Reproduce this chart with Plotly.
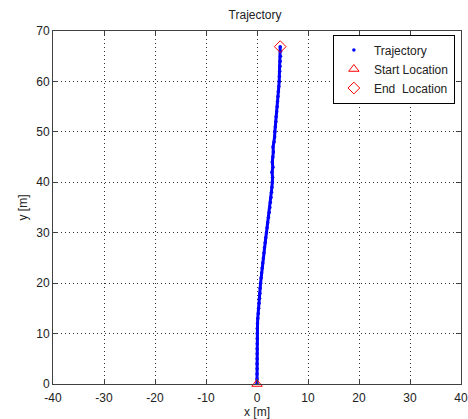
import plotly.graph_objects as go

traj_y = [0, 1, 2, 3, 4, 5, 6, 7, 8, 9, 10, 11, 12, 13, 14, 15, 16, 17, 18, 19,
          20, 21, 22, 23, 24, 25, 26, 27, 28, 29, 30, 31, 32, 33, 34, 35, 36, 37, 38, 39,
          40, 41, 42, 43, 44, 45, 46, 47, 48, 49, 50, 51, 52, 53, 54, 55, 56, 57, 58, 59,
          60, 61, 62, 63, 64, 65, 66, 66.9]
traj_x = [0.0, 0.0, 0.0, 0.02, 0.0, 0.02, 0.03, 0.02, 0.04, 0.05, 0.05, 0.05, 0.1, 0.15, 0.25, 0.32, 0.4, 0.5, 0.55, 0.62,
          0.7, 0.8, 0.9, 1.0, 1.12, 1.25, 1.35, 1.45, 1.6, 1.72, 1.85, 1.98, 2.1, 2.25, 2.4, 2.52, 2.62, 2.75, 2.85, 2.92,
          3.0, 3.05, 2.95, 3.1, 3.0, 3.1, 3.2, 3.15, 3.35, 3.45, 3.5, 3.6, 3.7, 3.75, 3.85, 3.95, 4.02, 4.1, 4.18, 4.28,
          4.35, 4.4, 4.45, 4.5, 4.55, 4.6, 4.6, 4.55]
start_xy = [0.0, 0.0]
end_xy = [4.55, 66.9]

x_ticks = [-40, -30, -20, -10, 0, 10, 20, 30, 40]
y_ticks = [0, 10, 20, 30, 40, 50, 60, 70]

font = "Liberation Sans, Arial, sans-serif"

fig = go.Figure()
fig.add_trace(go.Scatter(x=traj_x, y=traj_y, mode="lines", line=dict(color="#0000ff", width=3),
                         showlegend=False, hoverinfo="skip"))
fig.add_trace(go.Scatter(x=traj_x, y=traj_y, mode="markers", name="Trajectory",
                         marker=dict(color="#0000ff", size=3.5)))
fig.add_trace(go.Scatter(x=[start_xy[0]], y=[start_xy[1]], mode="markers", name="Start Location",
                         marker=dict(symbol="triangle-up-open", color="#ff0000", size=9, line=dict(width=1)),
                         cliponaxis=False))
fig.add_trace(go.Scatter(x=[end_xy[0]], y=[end_xy[1]], mode="markers", name="End  Location",
                         marker=dict(symbol="diamond-open", color="#ff0000", size=9, line=dict(width=1)),
                         cliponaxis=False))

axis_common = dict(showgrid=True, gridcolor="#333333", griddash="1px,3px", gridwidth=1,
                   zeroline=False, showline=True, linecolor="#404040", linewidth=1,
                   mirror="ticks", ticks="inside", ticklen=5, tickcolor="#404040",
                   automargin=False,
                   tickfont=dict(family=font, size=12, color="#222222"))

fig.update_xaxes(range=[-40, 40], tickvals=x_ticks, ticktext=[str(v) for v in x_ticks],
                 ticklabelstandoff=3,
                 title=dict(text="x [m]", font=dict(family=font, size=12, color="#222222"), standoff=2),
                 **axis_common)
fig.update_yaxes(range=[0, 70], tickvals=y_ticks, ticktext=[str(v) for v in y_ticks],
                 title=dict(text="y [m]", font=dict(family=font, size=12, color="#222222"), standoff=6),
                 **axis_common)

fig.update_layout(
    width=468, height=419,
    margin=dict(l=53, r=7, t=31, b=35, autoexpand=False),
    paper_bgcolor="#ffffff", plot_bgcolor="#ffffff",
    title=dict(text="Trajectory", x=0.545, xanchor="center", y=0.965, yanchor="middle",
               font=dict(family=font, size=12, color="#222222")),
    legend=dict(x=0.985, y=0.99, xanchor="right", yanchor="top",
                bgcolor="#ffffff", bordercolor="#000000", borderwidth=1,
                font=dict(family=font, size=12, color="#222222"),
                tracegroupgap=0, itemwidth=30),
    showlegend=True,
)

fig.write_html("out.html")
